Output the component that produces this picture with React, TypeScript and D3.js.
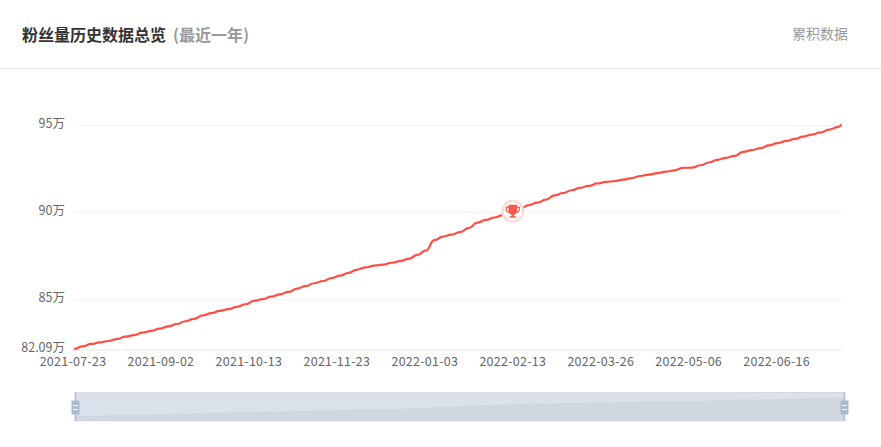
import { useEffect, useRef } from 'react'
import * as d3 from 'd3'

const firstDate = '2021-07-23'
const lastDate = '2022-07-16'
const xTickDates = [
  '2021-07-23', '2021-09-02', '2021-10-13', '2021-11-23', '2022-01-03',
  '2022-02-13', '2022-03-26', '2022-05-06', '2022-06-16',
]
const yTicks = [82.09, 85, 90, 95]
const peakDate = '2022-02-13'
const peakValue = 90

// fans in 万, read every 4 days off the picture (last one is the end date)
const fans = [
  82.09, 82.24, 82.38, 82.47, 82.55, 82.66, 82.8, 82.89, 83.03, 83.13,
  83.26, 83.39, 83.53, 83.69, 83.83, 84.03, 84.16, 84.29, 84.39, 84.52,
  84.67, 84.86, 84.96, 85.11, 85.24, 85.38, 85.57, 85.71, 85.88, 86.01,
  86.17, 86.32, 86.48, 86.67, 86.79, 86.9, 86.95, 87.06, 87.16, 87.29,
  87.51, 87.76, 88.36, 88.57, 88.68, 88.83, 89.06, 89.37, 89.53, 89.67,
  89.81, 90.0, 90.19, 90.38, 90.53, 90.7, 90.94, 91.08, 91.24, 91.38,
  91.49, 91.63, 91.72, 91.77, 91.85, 91.94, 92.06, 92.14, 92.23, 92.31,
  92.39, 92.53, 92.54, 92.68, 92.84, 92.99, 93.11, 93.22, 93.45, 93.55,
  93.67, 93.82, 93.96, 94.08, 94.2, 94.33, 94.45, 94.57, 94.73, 94.88,
  95.0,
]

const parse = d3.utcParse('%Y-%m-%d')
const fmt = d3.utcFormat('%Y-%m-%d')
const FONT = '"Noto Sans CJK SC", "Noto Sans", sans-serif'

export default function App() {
  const svgRef = useRef<SVGSVGElement>(null)

  useEffect(() => {
    const svg = d3.select(svgRef.current)
    svg.selectAll('*').remove()

    const W = 881
    const H = 447

    svg.attr('width', W).attr('height', H)

    const start = parse(firstDate) as Date
    const end = parse(lastDate) as Date
    const dates = d3.utcDay.range(start, end, 4).concat([end])

    const x = d3.scaleUtc().domain([start, end]).range([74, 842])
    const y = d3.scaleLinear().domain([82.09, 95]).range([349, 125])

    // Header
    svg.append('text')
      .attr('x', 22).attr('y', 41)
      .attr('fill', '#333')
      .style('font-family', FONT)
      .style('font-size', '16px')
      .style('font-weight', 700)
      .text('粉丝量历史数据总览')
    svg.append('text')
      .attr('x', 173).attr('y', 41)
      .attr('fill', '#999')
      .style('font-family', FONT)
      .style('font-size', '16px')
      .style('font-weight', 700)
      .text('(最近一年)')
    svg.append('text')
      .attr('x', 848).attr('y', 39)
      .attr('text-anchor', 'end')
      .attr('fill', '#999')
      .style('font-family', FONT)
      .style('font-size', '14px')
      .text('累积数据')
    svg.append('line')
      .attr('x1', 0).attr('x2', W)
      .attr('y1', 68.5).attr('y2', 68.5)
      .attr('stroke', '#e8e8ea')

    // Grid lines
    svg.selectAll('.grid-line-y')
      .data(yTicks.slice(1))
      .enter()
      .append('line')
      .attr('class', 'grid-line-y')
      .attr('x1', 74).attr('x2', 842)
      .attr('y1', (d) => Math.round(y(d)) + 0.5)
      .attr('y2', (d) => Math.round(y(d)) + 0.5)
      .attr('stroke', '#f3f3f3')

    // X axis
    svg.append('g')
      .attr('transform', 'translate(0,349.5)')
      .call(
        d3.axisBottom(x)
          .tickValues(xTickDates.map((d) => parse(d) as Date))
          .tickSize(0)
          .tickPadding(7.5)
          .tickFormat((d) => fmt(d as Date))
      )
      .call((axis) => {
        axis.select('.domain').attr('stroke', '#e6e6e6')
        axis.selectAll('.tick text')
          .attr('fill', '#666')
          .attr('dx', -1.5)
          .style('font-family', FONT)
          .style('font-size', '12.5px')
          .style('letter-spacing', '0.25px')
      })

    // Y axis
    svg.append('g')
      .attr('transform', 'translate(74,-1.5)')
      .call(
        d3.axisLeft(y)
          .tickValues(yTicks)
          .tickSize(0)
          .tickPadding(9)
          .tickFormat((d) => `${d}万`)
      )
      .call((axis) => {
        axis.select('.domain').remove()
        axis.selectAll('.tick text')
          .attr('fill', '#666')
          .style('font-family', FONT)
          .style('font-size', '12.5px')
      })

    // Curve
    const lineGen = d3.line<number>()
      .x((_, i) => x(dates[i]))
      .y((d) => y(d))
      .curve(d3.curveBumpX)

    svg.append('path')
      .datum(fans)
      .attr('fill', 'none')
      .attr('stroke', '#fb4f44')
      .attr('stroke-width', 2.2)
      .attr('stroke-linejoin', 'round')
      .attr('d', lineGen)

    // Trophy marker
    const marker = svg.append('g')
      .attr('transform', `translate(${x(parse(peakDate) as Date) - 1},${y(peakValue) - 0.5})`)
    marker.append('circle').attr('r', 11.5).attr('fill', '#fddbd7')
    marker.append('circle').attr('r', 9).attr('fill', '#fff')
    marker.append('path')
      .attr('fill', '#f4594c')
      .attr('transform', 'scale(1.1)')
      .attr('d', 'M-4-6H4V-4H6.5V-1.5C6.5 0.5 5 1.5 3.2 1.6C2.6 2.6 1.8 3.1 1 3.3V4.6H3V6H-3V4.6H-1V3.3C-1.8 3.1-2.6 2.6-3.2 1.6C-5 1.5-6.5 0.5-6.5-1.5V-4H-4ZM-5.4-3V-1.5C-5.4-0.4-4.7 0.3-3.8 0.5C-4-0.4-4-1.5-4-3ZM5.4-3H4C4-1.5 4-0.4 3.8 0.5C4.7 0.3 5.4-0.4 5.4-1.5Z')

    // Data zoom slider
    const slider = svg.append('g')
    const sx = d3.scaleUtc().domain([start, end]).range([75, 844])
    const sy = d3.scaleLinear().domain([82.09, 95]).range([416.5, 398])

    slider.append('rect')
      .attr('x', 75).attr('y', 392)
      .attr('width', 769).attr('height', 29)
      .attr('fill', '#dbe1ea')
    const areaGen = d3.area<number>()
      .x((_, i) => sx(dates[i]))
      .y0(421)
      .y1((d) => sy(d))
    slider.append('path')
      .datum(fans)
      .attr('fill', '#d0d7e0')
      .attr('stroke', '#c6cedb')
      .attr('stroke-width', 0.5)
      .attr('d', areaGen)
    slider.append('line')
      .attr('x1', 75).attr('x2', 844)
      .attr('y1', 392.5).attr('y2', 392.5)
      .attr('stroke', '#d5dae2')

    sx.range().forEach((hx) => {
      slider.append('line')
        .attr('x1', hx + 0.5).attr('x2', hx + 0.5)
        .attr('y1', 392).attr('y2', 421)
        .attr('stroke', '#afbccf')
        .attr('stroke-width', 1.5)
      slider.append('rect')
        .attr('x', hx - 3.5).attr('y', 400.5)
        .attr('width', 8).attr('height', 14)
        .attr('rx', 1)
        .attr('fill', '#a9b9d2')
      ;[405.5, 409.5].forEach((ly) => {
        slider.append('line')
          .attr('x1', hx - 2).attr('x2', hx + 3)
          .attr('y1', ly).attr('y2', ly)
          .attr('stroke', '#fff')
      })
    })
  }, [])

  return (
    <div style={{ position: 'absolute', left: 0, top: 0, background: '#fff' }}>
      <svg ref={svgRef} style={{ display: 'block' }} />
    </div>
  )
}
